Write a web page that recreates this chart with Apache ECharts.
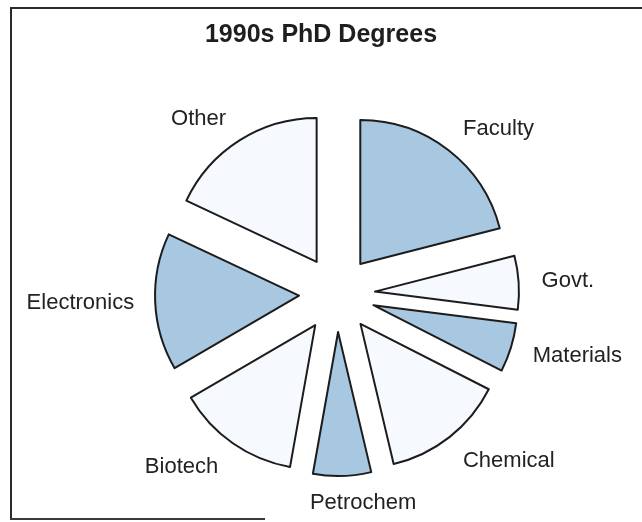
<!DOCTYPE html>
<html>
<head>
<meta charset="utf-8">
<script src="https://cdn.jsdelivr.net/npm/echarts@6/dist/echarts.min.js"></script>
<style>
html,body{margin:0;padding:0;background:#ffffff;}
#chart{width:642px;height:522px;}
</style>
</head>
<body>
<div id="chart"></div>
<script>
var titleText = '1990s PhD Degrees';
var categories = ['Faculty', 'Govt.', 'Materials', 'Chemical', 'Petrochem', 'Biotech', 'Electronics', 'Other'];
var values = [21, 6, 5.5, 13.8, 6.5, 13.8, 15.4, 18];
var fills = ['#a8c7e1', '#f6fafe', '#a8c7e1', '#f6fafe', '#a8c7e1', '#f6fafe', '#a8c7e1', '#f6fafe'];
// label leader geometry (radial length, horizontal length2) per slice - style only
var leadLen = [27, 22, 28, 30, 27, 29, 16, 25];
var leadLen2 = [-7, -4, -10, -10, -38, -7, 0, -5];

var chart = echarts.init(document.getElementById('chart'), null, {renderer: 'canvas'});

var data = categories.map(function (c, i) {
  return {
    name: c,
    value: values[i],
    selected: true,
    itemStyle: {color: fills[i]},
    labelLine: {show: false, length: leadLen[i], length2: leadLen2[i]}
  };
});

chart.setOption({
  backgroundColor: '#ffffff',
  animation: false,
  title: {
    text: titleText,
    left: 'center',
    top: 18,
    textStyle: {
      fontFamily: 'Liberation Sans, Arial, sans-serif',
      fontSize: 25,
      fontWeight: 'bold',
      color: '#1e1e1e'
    }
  },
  graphic: [
    {type: 'line', shape: {x1: 11, y1: 8, x2: 642, y2: 8}, style: {stroke: '#2a2a2a', lineWidth: 2}},
    {type: 'line', shape: {x1: 11, y1: 7, x2: 11, y2: 520}, style: {stroke: '#2a2a2a', lineWidth: 2}},
    {type: 'line', shape: {x1: 10, y1: 519, x2: 265, y2: 519}, style: {stroke: '#3a3a3a', lineWidth: 2}}
  ],
  series: [{
    type: 'pie',
    center: [337, 294],
    radius: [0, 144],
    startAngle: 90,
    clockwise: true,
    selectedMode: 'multiple',
    selectedOffset: 38,
    avoidLabelOverlap: false,
    silent: true,
    itemStyle: {borderColor: '#1c1c1c', borderWidth: 2},
    label: {
      show: true,
      position: 'outside',
      fontFamily: 'Liberation Sans, Arial, sans-serif',
      fontSize: 22,
      color: '#222222',
      distanceToLabelLine: 5
    },
    labelLine: {show: false, length: 22, length2: 0},
    select: {itemStyle: {borderColor: '#1c1c1c', borderWidth: 2}},
    emphasis: {disabled: true},
    data: data
  }]
});
</script>
</body>
</html>
